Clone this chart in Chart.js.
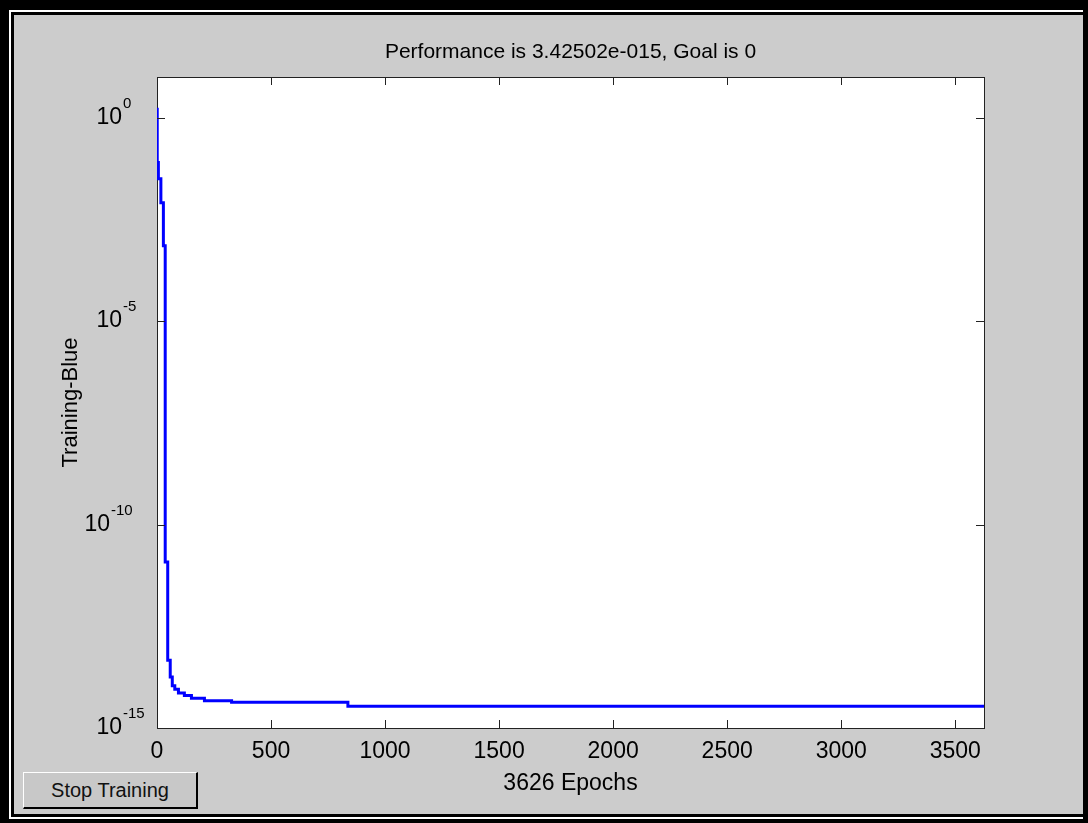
<!DOCTYPE html>
<html><head><meta charset="utf-8">
<script src="https://cdn.jsdelivr.net/npm/chart.js@4/dist/chart.umd.min.js"></script>
<style>
html,body{margin:0;padding:0;background:#ccc;}
#wrap{position:relative;width:1088px;height:823px;overflow:hidden;}
canvas{position:absolute;left:0;top:0;}
#btn{position:absolute;left:23px;top:772px;width:175px;height:37px;box-sizing:border-box;background:#c8c8c8;
 border-top:1px solid #fff;border-left:1px solid #fff;border-right:2px solid #000;border-bottom:2px solid #000;
 font:20px "Liberation Sans",Arial,sans-serif;color:#111;display:flex;align-items:center;justify-content:center;}
</style></head>
<body><div id="wrap"><canvas id="c" width="1088" height="823"></canvas><div id="btn">Stop Training</div></div>
<script>
const epochs = [0, 1, 6, 17, 28, 36, 47, 58, 67, 78, 94, 120, 151, 208, 327, 837, 3626];
const performance = [1.62, 0.0794, 0.0316, 0.00813, 7.1e-4, 1.2e-11, 4.6e-14, 1.8e-14, 1.1e-14, 8.9e-15, 7.2e-15, 6.3e-15, 5.4e-15, 4.7e-15, 4.3e-15, 3.42502e-15, 3.42502e-15];
const xTicks = [0, 500, 1000, 1500, 2000, 2500, 3000, 3500];
const yTicks = [1, 1e-5, 1e-10, 1e-15];
const yTickExponents = ['0', '-5', '-10', '-15'];
const titleText = 'Performance is 3.42502e-015, Goal is 0';
const xLabel = '3626 Epochs';
const yLabel = 'Training-Blue';
const xMax = 3626;
const yMin = 1e-15, yMax = 10;

const FONT = '"Liberation Sans", Arial, sans-serif';

const framePlugin = {
  id: 'frame',
  beforeDraw(chart) {
    const ctx = chart.ctx, a = chart.chartArea;
    ctx.save();
    ctx.fillStyle = '#000'; ctx.fillRect(0, 0, 1088, 823);
    ctx.fillStyle = '#fff'; ctx.fillRect(9, 10, 1083 - 9, 819 - 10);
    ctx.fillStyle = '#000'; ctx.fillRect(11, 12, 1083 - 11, 817 - 12);
    ctx.fillStyle = '#cccccc'; ctx.fillRect(14, 15, 1083 - 14, 814 - 15);
    ctx.fillStyle = '#fff'; ctx.fillRect(a.left, a.top, a.right - a.left, a.bottom - a.top);
    ctx.restore();
  },
  afterDraw(chart) {
    const ctx = chart.ctx, a = chart.chartArea;
    const xs = chart.scales.x, ys = chart.scales.y;
    ctx.save();
    ctx.strokeStyle = '#222'; ctx.lineWidth = 1;
    ctx.beginPath();
    xTicks.forEach(v => {
      const px = Math.round(xs.getPixelForValue(v)) + 0.5;
      ctx.moveTo(px, a.bottom); ctx.lineTo(px, a.bottom - 8);
      ctx.moveTo(px, a.top); ctx.lineTo(px, a.top + 8);
    });
    yTicks.forEach(v => {
      const py = Math.round(ys.getPixelForValue(v)) + 0.5;
      ctx.moveTo(a.left, py); ctx.lineTo(a.left + 8, py);
      ctx.moveTo(a.right, py); ctx.lineTo(a.right - 8, py);
    });
    ctx.stroke();
    ctx.fillStyle = '#000';
    yTicks.forEach((v, i) => {
      const py = ys.getPixelForValue(v);
      // MATLAB shifts the wider two-digit exponent label further left
      const shift = yTickExponents[i] === '-10' ? 12 : 0;
      const baseRight = a.left - 35 - shift;
      ctx.font = '23px ' + FONT;
      ctx.textAlign = 'right'; ctx.textBaseline = 'middle';
      ctx.fillText('10', baseRight, py);
      ctx.font = '15px ' + FONT;
      ctx.textAlign = 'left';
      ctx.fillText(yTickExponents[i], baseRight + 1, py - 14);
    });
    ctx.restore();
  }
};

new Chart(document.getElementById('c'), {
  type: 'line',
  data: {
    datasets: [{
      data: epochs.map((e, i) => ({x: e, y: performance[i]})),
      borderColor: '#0000ff',
      borderWidth: 3,
      pointRadius: 0,
      stepped: 'before',
      fill: false,
      borderJoinStyle: 'miter',
      borderCapStyle: 'butt'
    }]
  },
  options: {
    responsive: false,
    animation: false,
    devicePixelRatio: 1,
    layout: {padding: 0},
    plugins: {legend: {display: false}, tooltip: {enabled: false}, title: {display: false}},
    scales: {
      x: {
        type: 'linear', position: 'bottom', min: 0, max: xMax,
        afterBuildTicks: s => { s.ticks = xTicks.map(v => ({value: v})); },
        afterFit: s => { s.height = 95; },
        grid: {display: false},
        border: {display: true, color: '#222', width: 1},
        ticks: {font: {size: 23, family: FONT}, color: '#000', padding: 2, maxRotation: 0, autoSkip: false,
                callback: v => String(v)},
        title: {display: true, text: xLabel, color: '#000', font: {size: 23, family: FONT}, padding: {top: 0, bottom: 26}}
      },
      x2: {
        type: 'linear', position: 'top', min: 0, max: xMax,
        afterFit: s => { s.height = 77; },
        grid: {display: false},
        border: {display: true, color: '#222', width: 1},
        ticks: {display: false},
        title: {display: true, text: titleText, color: '#000', font: {size: 21, family: FONT}, padding: {top: 40, bottom: 0}}
      },
      y: {
        type: 'logarithmic', position: 'left', min: yMin, max: yMax,
        afterBuildTicks: s => { s.ticks = yTicks.map(v => ({value: v})); },
        afterFit: s => { s.width = 157; },
        grid: {display: false},
        border: {display: true, color: '#222', width: 1},
        ticks: {display: false},
        title: {display: true, text: yLabel, color: '#000', font: {size: 22, family: FONT}, padding: {top: 58, bottom: 0}}
      },
      y2: {
        type: 'logarithmic', position: 'right', min: yMin, max: yMax,
        afterFit: s => { s.width = 104; },
        grid: {display: false},
        border: {display: true, color: '#222', width: 1},
        ticks: {display: false}
      }
    }
  },
  plugins: [framePlugin]
});
</script>
</body></html>
